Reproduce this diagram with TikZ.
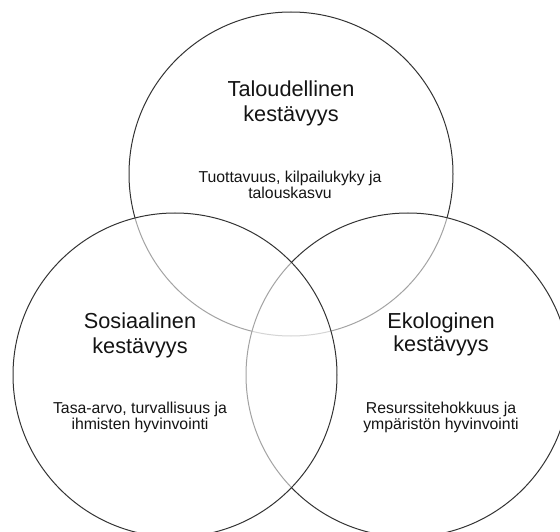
\documentclass[tikz,border=0pt]{standalone}
\usepackage{fontspec}
\setmainfont{Liberation Sans}
\usepackage{tkz-euclide}

\tikzset{
  ring/.style={draw=black!80,line width=1pt},
  veil/.style={fill=white,fill opacity=.55},
  head/.style={anchor=base,inner sep=0pt,text=black!92,font=\fontsize{21.7}{25}\selectfont},
  note/.style={anchor=base,inner sep=0pt,text=black!92,font=\fontsize{15.8}{16}\selectfont}
}

\begin{document}
\begin{tikzpicture}[x=1pt,y=1pt]
\clip (0,0) rectangle (560,531);

\tkzDefPoint(291,357){T}
\tkzDefPoint(175,156){S}
\tkzDefPoint(408,156){E}

% circles, later ones lie over the earlier ones
\draw[ring] (T) circle [radius=162pt];
\draw[ring,veil] (E) circle [radius=162pt];
\draw[ring,veil] (S) circle [radius=162pt];

%top
\node[head] (Ttitle1) at (291,434) {Taloudellinen};
\node[head] (Ttitle2) at (291,409) {kestävyys};
\node[note] (Tnote1) at (290,348) {Tuottavuus, kilpailukyky ja};
\node[note] (Tnote2) at (290,332) {talouskasvu};

%left
\node[head] (Stitle1) at (140,203) {Sosiaalinen};
\node[head] (Stitle2) at (140,178) {kestävyys};
\node[note] (Snote1) at (140,118) {Tasa-arvo, turvallisuus ja};
\node[note] (Snote2) at (140,102) {ihmisten hyvinvointi};

%right
\node[head] (Etitle1) at (441,203) {Ekologinen};
\node[head] (Etitle2) at (441,179) {kestävyys};
\node[note] (Enote1) at (441,118) {Resurssitehokkuus ja};
\node[note] (Enote2) at (441,102) {ympäristön hyvinvointi};

\end{tikzpicture}
\end{document}
